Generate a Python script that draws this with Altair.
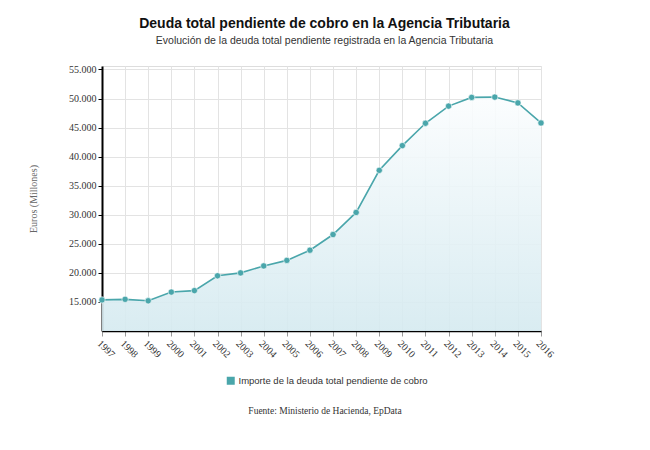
import altair as alt
import pandas as pd

years = list(range(1997, 2017))
deuda = [15350, 15450, 15200, 16700, 16950, 19500, 20000, 21200, 22150, 23900,
         26600, 30400, 37650, 41900, 45750, 48700, 50200, 50250, 49250, 45800]
y_ticks = [15000, 20000, 25000, 30000, 35000, 40000, 45000, 50000, 55000]
series_name = "Importe de la deuda total pendiente de cobro"
title_text = "Deuda total pendiente de cobro en la Agencia Tributaria"
subtitle_text = "Evolución de la deuda total pendiente registrada en la Agencia Tributaria"
footer_text = "Fuente: Ministerio de Hacienda, EpData"
y_title = "Euros (Millones)"

df = pd.DataFrame({"anio": years, "valor": deuda, "serie": [series_name] * len(years)})
foot = pd.DataFrame({"t": [footer_text]})

TEAL = "#4aa6ab"
Y_MIN, Y_MAX = 10000, 55600

xenc = alt.X(
    "anio:Q",
    scale=alt.Scale(domain=[1997, 2016], nice=False, zero=False),
    axis=alt.Axis(
        values=years, format="d", labelAngle=45, labelAlign="left", labelBaseline="top",
        labelFont="Liberation Serif", labelFontSize=10, labelColor="#333333",
        tickColor="#999999", tickSize=5, labelPadding=2, labelOverlap=False,
        domainColor="#000000", domainWidth=1.5,
        grid=True, gridColor="#e3e3e3", gridWidth=1, title=None,
    ),
)
yscale = alt.Scale(domain=[Y_MIN, Y_MAX], nice=False, zero=False)
yenc = alt.Y(
    "valor:Q",
    scale=yscale,
    axis=alt.Axis(
        values=y_ticks,
        labelExpr="replace(format(datum.value, ','), ',', '.')",
        labelFont="Liberation Serif", labelFontSize=10, labelColor="#333333",
        tickColor="#000000", tickSize=4, labelPadding=2,
        domainColor="#000000", domainWidth=2,
        grid=True, gridColor="#e3e3e3", gridWidth=1,
        title=y_title, titleFont="Liberation Serif", titleFontSize=10,
        titleColor="#666666", titleFontWeight="normal", titlePadding=30,
    ),
)

base = alt.Chart(df)

area = base.mark_area(
    interpolate="linear",
    fillOpacity=0.9,
    color=alt.Gradient(
        gradient="linear",
        stops=[alt.GradientStop(color="#fbfdfe", offset=0),
               alt.GradientStop(color="#d5eaf0", offset=1)],
        x1=1, x2=1, y1=0, y2=1,
    ),
).encode(x=xenc, y=yenc, y2=alt.datum(Y_MIN))

line = base.mark_line(interpolate="linear", color=TEAL, strokeWidth=1.6).encode(
    x=xenc, y=yenc,
    color=alt.Color("serie:N", scale=alt.Scale(range=[TEAL]),
                    legend=alt.Legend(
                        title=None, orient="none", legendX=124, legendY=310,
                        symbolType="square", symbolSize=42, symbolFillColor=TEAL,
                        symbolStrokeColor=TEAL, labelFont="Liberation Sans",
                        labelFontSize=9.5, labelColor="#333333", labelLimit=0,
                        labelOffset=3,
                    )),
)

points = base.mark_point(filled=True, size=40, color=TEAL, opacity=1,
                         stroke="#ffffff", strokeWidth=0.6).encode(x=xenc, y=yenc)

footer = alt.Chart(foot).mark_text(
    font="Liberation Serif", fontSize=9.5, color="#333333", align="center", baseline="middle"
).encode(x=alt.value(223), y=alt.value(345), text="t:N")

chart = alt.layer(area, line, points, footer).properties(
    width=439,
    height=265,
    autosize=alt.AutoSizeParams(type="none"),
    padding={"left": 102, "top": 66, "right": 109, "bottom": 119},
    title=alt.TitleParams(
        text=title_text, subtitle=subtitle_text, anchor="middle", dx=3,
        font="Liberation Sans", fontSize=14, fontWeight="bold", color="#111111",
        subtitleFont="Liberation Sans", subtitleFontSize=10.5, subtitleColor="#333333",
        subtitlePadding=5, offset=18,
    ),
).configure_view(stroke="#000000", strokeWidth=1.5).configure(background="#ffffff")

chart.save("out.html", embed_options={"renderer": "svg", "actions": False})
